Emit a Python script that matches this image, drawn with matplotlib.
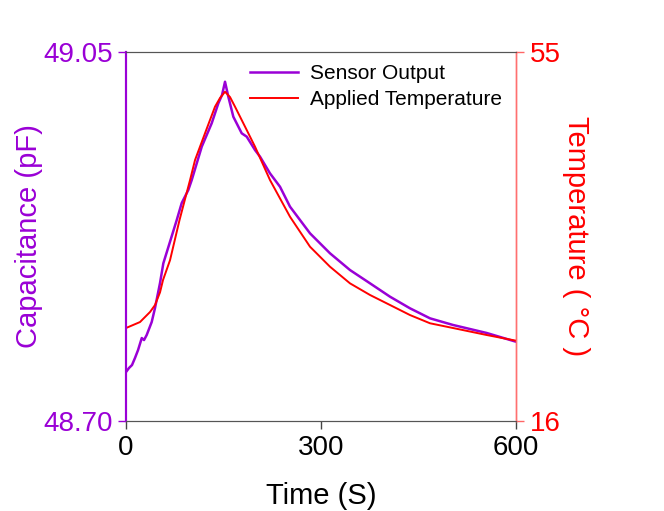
import matplotlib
matplotlib.use("Agg")
import matplotlib.pyplot as plt

plt.rcParams['font.family'] = ['Liberation Sans', 'DejaVu Sans']

# sensor output (capacitance, pF)
sensor_t = [0, 4.6, 9.2, 13.8, 18.5, 24.2, 27.7, 31.8, 39.5, 44.6, 52.3, 57.4, 78, 85.7,
            95.8, 101.1, 116.5, 131.8, 142, 147.7, 152.3, 157.4, 165.1, 178, 185.7, 198.5,
            206.2, 221.5, 236.9, 252.3, 283.1, 313.8, 344.6, 375.4, 406.2, 436.9, 467.7,
            503.1, 554.9, 600]
sensor_c = [48.7465, 48.7503, 48.7531, 48.7598, 48.7673, 48.7787, 48.7768, 48.7816, 48.7939,
            48.8072, 48.8309, 48.8496, 48.8906, 48.9068, 48.9191, 48.9286, 48.9602, 48.9824,
            49.0013, 49.0092, 49.0218, 49.0076, 48.9886, 48.9729, 48.9697, 48.9570, 48.9507,
            48.9349, 48.9222, 48.9033, 48.8780, 48.8591, 48.8432, 48.8306, 48.8179, 48.8069,
            48.7974, 48.7911, 48.7835, 48.7752]

# applied temperature (deg C)
temp_t = [0, 21.5, 36.9, 44.6, 52.3, 56.9, 67.7, 82.3, 98.5, 106.2, 121.5, 136.9, 144.6,
          152.3, 160, 167.7, 183.1, 198.5, 221.5, 252.3, 283.1, 313.8, 344.6, 375.4, 406.2,
          436.9, 467.7, 503.1, 554.9, 600]
temp_v = [25.83, 26.46, 27.52, 28.26, 29.60, 30.90, 33.00, 37.24, 41.47, 43.59, 46.41,
          49.22, 50.14, 50.80, 50.24, 49.22, 47.11, 44.99, 41.47, 37.59, 34.42, 32.31,
          30.55, 29.32, 28.26, 27.20, 26.33, 25.83, 25.09, 24.49]

purple = '#9A00D6'
red = '#FF0000'

fig = plt.figure(figsize=(6.64, 5.11), dpi=100)
ax = fig.add_axes([0.1898, 0.1761, 0.5873, 0.7221])
ax2 = ax.twinx()

l1, = ax.plot(sensor_t, sensor_c, color=purple, lw=1.8, label='Sensor Output')
l2, = ax2.plot(temp_t, temp_v, color=red, lw=1.4, label='Applied Temperature')

ax.set_xlim(0, 600)
ax.set_ylim(48.70, 49.05)
ax2.set_ylim(16, 55)

ax.set_xticks([0, 300, 600])
ax.set_yticks([48.70, 49.05])
ax.set_yticklabels(['48.70', '49.05'])
ax2.set_yticks([16, 55])

ax.tick_params(axis='x', direction='out', length=6, width=1, color='#444444',
               labelsize=20, pad=4)
ax.tick_params(axis='y', direction='out', length=6, width=1, color=purple,
               labelcolor=purple, labelsize=20, pad=3.5)
ax2.tick_params(axis='y', direction='out', length=6, width=1, color='#FF6666',
                labelcolor=red, labelsize=20, pad=4)

for a in (ax, ax2):
    a.spines['top'].set_color('#555555')
    a.spines['bottom'].set_color('#555555')
    a.spines['left'].set_color(purple)
    a.spines['right'].set_color('#FF7070')
    a.spines['left'].set_linewidth(1.5)
    a.spines['right'].set_linewidth(1.0)

ax.set_xlabel('Time (S)', fontsize=21, labelpad=15)
ax.set_ylabel('Capacitance (pF)', fontsize=21, color=purple, labelpad=0)
ax2.set_ylabel('Temperature ( °C )', fontsize=21, color=red, labelpad=1,
               rotation=270, va='bottom')

ax2.legend(handles=[l1, l2], loc='upper left', bbox_to_anchor=(0.318, 0.968),
           frameon=False, fontsize=15, handlelength=2.3, handletextpad=0.58,
           borderaxespad=0, borderpad=0, labelspacing=0.35)

fig.savefig('out.png', dpi=100, facecolor='white')
